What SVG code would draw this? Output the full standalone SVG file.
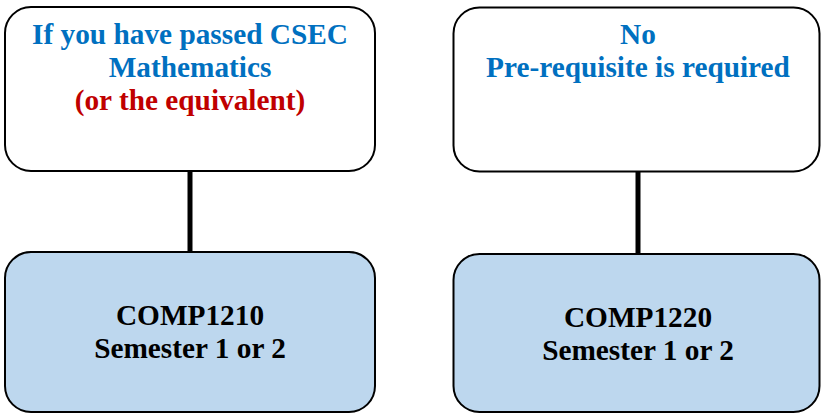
<svg xmlns="http://www.w3.org/2000/svg" width="821" height="414" viewBox="0 0 821 414">
<style>
.box{stroke:#000;stroke-width:2}
.top{fill:#fff}
.bot{fill:#BDD7EE}
.t{font-family:'Liberation Serif','DejaVu Serif',serif;font-weight:700;font-size:29.3px;text-anchor:middle}
.blue{fill:#0070C0}
.red{fill:#C00000}
.blk{fill:#000}
.conn{stroke:#000;stroke-width:5}
</style>
<rect width="821" height="414" fill="#fff"/>
<g id="connectors">
<line class="conn" x1="190" y1="171" x2="190" y2="252"/>
<line class="conn" x1="638" y1="172" x2="638" y2="254"/>
</g>
<g id="node-csec">
<rect class="box top" x="5" y="7" width="370" height="164" rx="26"/>
<text class="t blue" x="190" y="44" font-family="Liberation Serif, serif">If you have passed CSEC</text>
<text class="t blue" x="190" y="77" font-family="Liberation Serif, serif">Mathematics</text>
<text class="t red" x="190" y="110" font-family="Liberation Serif, serif">(or the equivalent)</text>
</g>
<g id="node-noprereq">
<rect class="box top" x="453.5" y="7.5" width="366" height="164" rx="26"/>
<text class="t blue" x="638" y="44" font-family="Liberation Serif, serif">No</text>
<text class="t blue" x="638" y="77" font-family="Liberation Serif, serif">Pre-requisite is required</text>
</g>
<g id="node-comp1210">
<rect class="box bot" x="5" y="252" width="370" height="160" rx="26"/>
<text class="t blk" x="190" y="325" font-family="Liberation Serif, serif">COMP1210</text>
<text class="t blk" x="190" y="358" font-family="Liberation Serif, serif">Semester 1 or 2</text>
</g>
<g id="node-comp1220">
<rect class="box bot" x="453.5" y="254" width="366" height="158" rx="26"/>
<text class="t blk" x="638" y="327" font-family="Liberation Serif, serif">COMP1220</text>
<text class="t blk" x="638" y="360" font-family="Liberation Serif, serif">Semester 1 or 2</text>
</g>
</svg>
